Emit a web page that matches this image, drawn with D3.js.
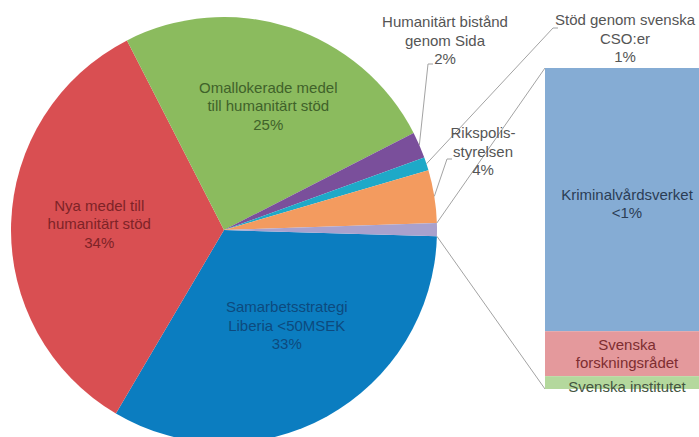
<!DOCTYPE html>
<html>
<head>
<meta charset="utf-8">
<script src="https://cdn.jsdelivr.net/npm/d3@7"></script>
<style>
  body { margin: 0; background: #fff; }
  svg { display: block; font-family: "Liberation Sans", Arial, sans-serif; }
</style>
</head>
<body>
<div id="chart"></div>
<script>
// data: pie slices (share of total, %)
const sliceNames = ["Samarbetsstrategi Liberia <50MSEK", "Nya medel till humanitärt stöd", "Omallokerade medel till humanitärt stöd",
  "Humanitärt bistånd genom Sida", "Stöd genom svenska CSO:er", "Rikspolisstyrelsen", "Övrigt"];
const sliceLines = [["Samarbetsstrategi", "Liberia <50MSEK", "33%"], ["Nya medel till", "humanitärt stöd", "34%"],
  ["Omallokerade medel", "till humanitärt stöd", "25%"], ["Humanitärt bistånd", "genom Sida", "2%"],
  ["Stöd genom svenska", "CSO:er", "1%"], ["Rikspolis-", "styrelsen", "4%"], []];
const sliceValues = [33, 34, 25, 2, 1, 4, 1];
const sliceColors = ["#0b7dc0", "#d94f52", "#8bbb5e", "#7a4f9b", "#1ea9c8", "#f39b5f", "#a9a1cd"];
const sliceText = ["#0d4a7e", "#7e2327", "#40622a", "#555", "#555", "#555", "#555"];

// data: breakdown of the last slice (share of that slice)
const barNames = ["Kriminalvårdsverket", "Svenska forskningsrådet", "Svenska institutet"];
const barLines = [["Kriminalvårdsverket", "<1%"], ["Svenska", "forskningsrådet"], ["Svenska institutet"]];
const barValues = [82, 14, 4];
const barColors = ["#85acd4", "#e4999c", "#b4d89d"];
const barText = ["#2b3d55", "#7e2d30", "#44553f"];

const width = 699, height = 437;
const cx = 224, cy = 230, R = 213;
const deg = Math.PI / 180;
const startOffset = 1.7; // degrees below 3 o'clock where first slice begins

// inside label nudges from the centroid
const insideNudge = [[1, -22], [3, -8], [5, -8]];
// outside label placement (label centre, elbow of leader)
const outside = {
  3: { x: 445, y: 22, elbow: [[428, 64], [433, 64]] },
  4: { x: 625, y: 20, elbow: [[553, 28], [558, 28]] },
  5: { x: 483, y: 133, elbow: [[447, 159], [452, 159]] }
};
const lineH = 18.5;

const svg = d3.select("#chart").append("svg")
  .attr("width", width).attr("height", height);

const pie = d3.pie().sort(null)
  .startAngle((90 + startOffset) * deg)
  .endAngle((90 + startOffset) * deg + 2 * Math.PI);
const arcs = pie(sliceValues);

const arc = d3.arc().innerRadius(0).outerRadius(R);
const g = svg.append("g").attr("transform", `translate(${cx},${cy})`);

g.selectAll("path").data(arcs).join("path")
  .attr("d", arc)
  .attr("fill", (d, i) => sliceColors[i]);

// point on the pie rim for a d3 angle
const rim = (a, r = R) => [cx + r * Math.sin(a), cy - r * Math.cos(a)];

function multiline(sel, lines, x, y, color) {
  const t = sel.append("text")
    .attr("text-anchor", "middle")
    .attr("fill", color)
    .style("font-size", "15px");
  lines.forEach((l, k) => {
    t.append("tspan").attr("x", x).attr("y", y + k * lineH).attr("dy", "0.35em").text(l);
  });
  return t;
}

// inside labels
const labelArc = d3.arc().innerRadius(0).outerRadius(R * 1.2);
arcs.forEach((d, i) => {
  if (i > 2) return;
  const [x, y] = labelArc.centroid(d);
  multiline(svg, sliceLines[i], cx + x + insideNudge[i][0], cy + y - lineH * 0.7 + insideNudge[i][1], sliceText[i]);
});

// outside labels with leaders
const lines = svg.append("g").attr("fill", "none").attr("stroke", "#a3a3a3").attr("stroke-width", 1);
Object.keys(outside).forEach(k => {
  const i = +k, o = outside[k], d = arcs[i];
  const p = rim((d.startAngle + d.endAngle) / 2);
  lines.append("path").attr("d", d3.line()([p, ...o.elbow]));
  multiline(svg, sliceLines[i], o.x, o.y, sliceText[i]);
});

// bar of pie
const x0 = 545, barW = 164;
const y = d3.scaleLinear().domain([0, d3.sum(barValues)]).range([68, 389]);
const cum = d3.cumsum([0, ...barValues]);
const bar = svg.append("g");
barValues.forEach((v, i) => {
  bar.append("rect")
    .attr("x", x0).attr("width", barW)
    .attr("y", y(cum[i])).attr("height", y(cum[i + 1]) - y(cum[i]))
    .attr("fill", barColors[i]);
});
barValues.forEach((v, i) => {
  const mid = (y(cum[i]) + y(cum[i + 1])) / 2;
  const n = barLines[i].length;
  const shift = i === 0 ? 4 : i === 2 ? 4 : 0;
  multiline(svg, barLines[i], x0 + barW / 2, mid - (n - 1) * lineH / 2 + shift, barText[i]);
});

// connectors from the last slice to the bar
const last = arcs[arcs.length - 1];
const pTop = rim(last.startAngle), pBot = rim(last.endAngle);
lines.append("line").attr("x1", pTop[0]).attr("y1", pTop[1]).attr("x2", x0).attr("y2", y(0));
lines.append("line").attr("x1", pBot[0]).attr("y1", pBot[1]).attr("x2", x0).attr("y2", y(d3.sum(barValues)));
</script>
</body>
</html>
